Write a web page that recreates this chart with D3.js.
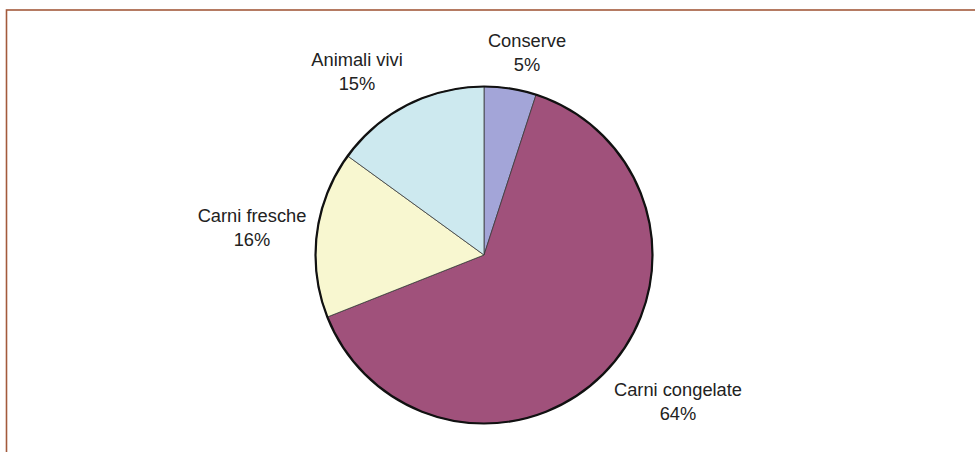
<!DOCTYPE html>
<html><head><meta charset="utf-8">
<script src="https://cdn.jsdelivr.net/npm/d3@7"></script>
<style>body{margin:0;background:#fff}svg{display:block}</style>
</head><body>
<svg id="c" width="975" height="452"></svg>
<script>
const categories = ["Conserve", "Carni congelate", "Carni fresche", "Animali vivi"];
const values = [5, 64, 16, 15];
const colors = ["#a3a5d8", "#a0517b", "#f8f7d0", "#cde9ef"];
const labelPos = [[527, 47], [678, 396], [252, 222], [357, 66]];

const svg = d3.select("#c");
svg.append("rect").attr("x", 6.5).attr("y", 10).attr("width", 1000).attr("height", 500)
  .attr("fill", "none").attr("stroke", "#a35a3c").attr("stroke-width", 1.6);

const cx = 484, cy = 255, r = 168.5;
const g = svg.append("g").attr("transform", `translate(${cx},${cy})`);
const pie = d3.pie().sort(null).value(d => d)(values);
const arc = d3.arc().innerRadius(0).outerRadius(r);
g.selectAll("path.s").data(pie).join("path").attr("class", "s")
  .attr("d", arc).attr("fill", (d, i) => colors[i])
  .attr("stroke", "#3a3a3a").attr("stroke-width", 0.8);
g.append("circle").attr("r", r).attr("fill", "none").attr("stroke", "#111").attr("stroke-width", 2.2);

const lab = svg.append("g").attr("font-family", "Liberation Sans, Arial, sans-serif")
  .attr("font-size", 18.3).attr("fill", "#222").attr("text-anchor", "middle");
categories.forEach((c, i) => {
  const t = lab.append("text").attr("x", labelPos[i][0]).attr("y", labelPos[i][1]);
  t.append("tspan").attr("x", labelPos[i][0]).attr("dy", 0).text(c);
  t.append("tspan").attr("x", labelPos[i][0]).attr("dy", 23.5).text(values[i] + "%");
});
</script>
</body></html>
